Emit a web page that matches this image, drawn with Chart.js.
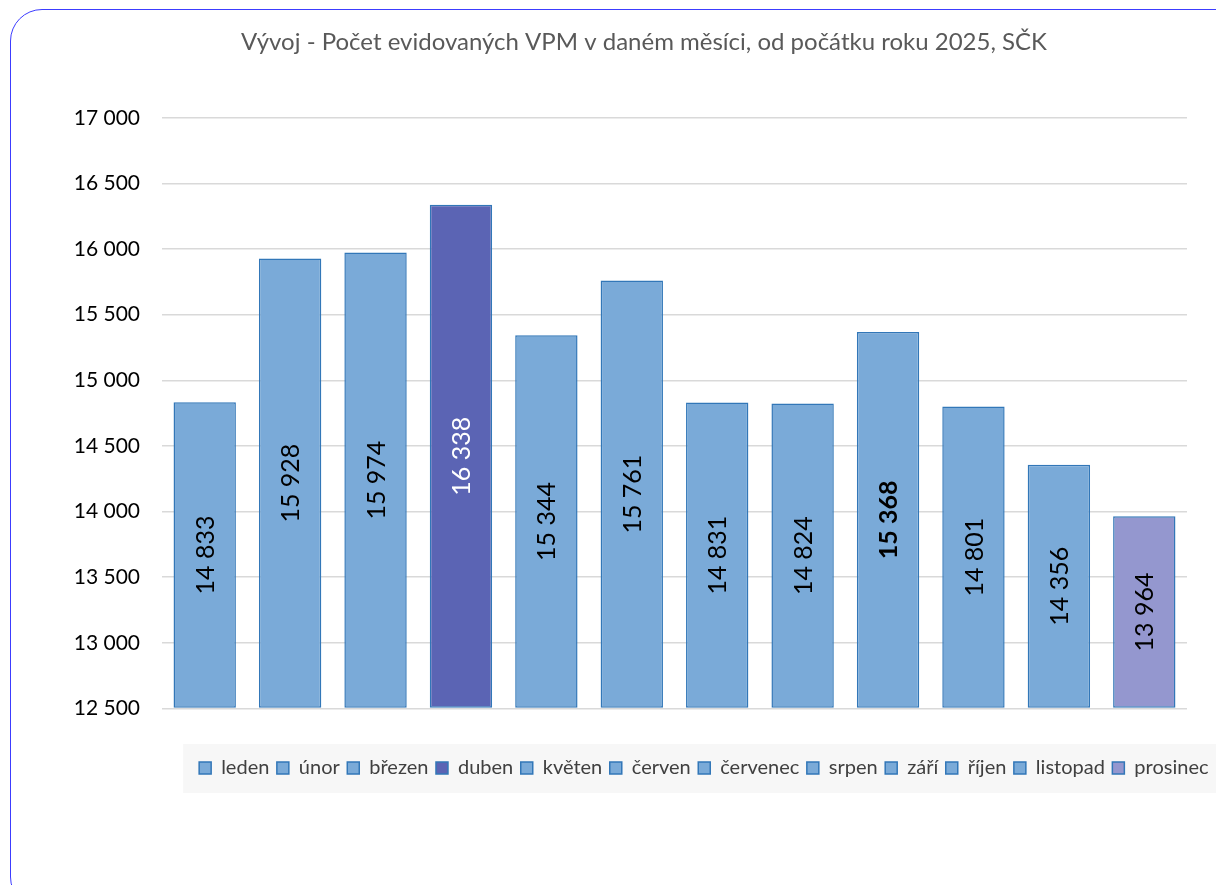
<!DOCTYPE html>
<html lang="cs">
<head>
<meta charset="utf-8">
<script src="https://cdn.jsdelivr.net/npm/chart.js@4"></script>
<style>
    html, body { margin: 0; padding: 0; background: #fff; overflow: hidden; }
    #frame {
        position: absolute; left: 10px; top: 9px; width: 1240px; height: 900px;
        border: 1.6px solid #3c3cff; border-radius: 32px; box-sizing: border-box;
    }
    #wrap { position: absolute; left: 0; top: 0; width: 1216px; height: 885px; }
</style>
</head>
<body>
<div id="frame"></div>
<div id="wrap"><canvas id="chart"></canvas></div>
<script>
// --- Data ---
const months = ['leden', 'únor', 'březen', 'duben', 'květen', 'červen',
    'červenec', 'srpen', 'září', 'říjen', 'listopad', 'prosinec'];
const counts = [14833, 15928, 15974, 16338, 15344, 15761, 14831, 14824, 15368, 14801, 14356, 13964];
const yTicks = [12500, 13000, 13500, 14000, 14500, 15000, 15500, 16000, 16500, 17000];

// --- Styles ---
const FONT = 'Lato, "Liberation Sans", sans-serif';
const barFill = months.map(m => m === 'duben' ? '#5b64b4' : m === 'prosinec' ? '#9497cf' : '#7aaad8');
const barBorder = '#3277b8';

const fmt = v => String(v).replace(/\B(?=(\d{3})+(?!\d))/g, ' ');

// value labels, rotated, in the middle of each bar
const valueLabels = {
    id: 'valueLabels',
    afterDatasetsDraw(chart) {
        const ctx = chart.ctx;
        const bottom = chart.chartArea.bottom;
        chart.getDatasetMeta(0).data.forEach((bar, i) => {
            const cy = (bar.y + Math.min(bar.base, bottom)) / 2;
            ctx.save();
            ctx.translate(bar.x, cy);
            ctx.rotate(-Math.PI / 2);
            ctx.font = (months[i] === 'září' ? 'bold ' : '') + '25px ' + FONT;
            ctx.fillStyle = months[i] === 'duben' ? '#ffffff' : '#000000';
            ctx.textAlign = 'center';
            ctx.textBaseline = 'middle';
            ctx.fillText(fmt(counts[i]), 0, 1);
            ctx.restore();
        });
    }
};

// light grey band behind the legend
const legendBand = {
    id: 'legendBand',
    beforeDraw(chart) {
        const lg = chart.legend;
        if (!lg || !lg.legendHitBoxes.length) return;
        const first = lg.legendHitBoxes[0];
        const ctx = chart.ctx;
        ctx.save();
        ctx.fillStyle = '#f7f7f7';
        ctx.fillRect(first.left - 16, first.top + first.height / 2 - 24, chart.width, 49);
        ctx.restore();
    }
};

new Chart(document.getElementById('chart').getContext('2d'), {
    type: 'bar',
    data: {
        labels: months,
        datasets: [{
            label: 'Počet evidovaných VPM',
            data: counts,
            base: yTicks[0],
            backgroundColor: barFill,
            borderColor: barBorder,
            borderWidth: 1.5,
            borderSkipped: false,
            categoryPercentage: 1,
            barPercentage: 0.73
        }]
    },
    options: {
        responsive: true,
        maintainAspectRatio: false,
        animation: false,
        layout: { padding: { left: 72, right: 0, top: 0, bottom: 97 } },
        scales: {
            x: {
                grid: { display: true, color: 'transparent', drawOnChartArea: false, drawTicks: true, tickLength: 42 },
                border: { display: false },
                ticks: { display: false }
            },
            y: {
                min: 12500,
                max: 17000,
                afterBuildTicks: axis => { axis.ticks = yTicks.map(v => ({ value: v })); },
                afterFit: axis => { axis.width = 90; },
                grid: { color: '#d9d9d9', lineWidth: 1.5, drawTicks: false },
                border: { display: false },
                ticks: {
                    padding: 22,
                    color: '#000',
                    font: { family: FONT, size: 21 },
                    callback: v => fmt(v)
                }
            },
            // empty axis on the right, only keeps the plot off the edge
            yRight: {
                position: 'right',
                min: 12500,
                max: 17000,
                grid: { display: true, color: 'transparent', drawOnChartArea: false, drawTicks: true, tickLength: 29 },
                border: { display: false },
                ticks: { display: false }
            }
        },
        plugins: {
            title: {
                display: true,
                text: 'Vývoj - Počet evidovaných VPM v daném měsíci, od počátku roku 2025, SČK',
                color: '#595959',
                font: { family: FONT, size: 24, weight: 'normal' },
                padding: { top: 28, bottom: 61 }
            },
            legend: {
                position: 'bottom',
                align: 'end',
                labels: {
                    boxWidth: 12,
                    boxHeight: 12,
                    padding: 7.5,
                    color: '#404040',
                    font: { family: FONT, size: 20 },
                    generateLabels: chart => months.map((m, i) => ({
                        text: m,
                        fillStyle: barFill[i],
                        strokeStyle: barBorder,
                        fontColor: '#404040',
                        lineWidth: 1.5,
                        hidden: false,
                        index: i,
                        datasetIndex: 0
                    }))
                },
                onClick: () => {}
            },
            tooltip: { enabled: false }
        }
    },
    plugins: [valueLabels, legendBand]
});
</script>
</body>
</html>
